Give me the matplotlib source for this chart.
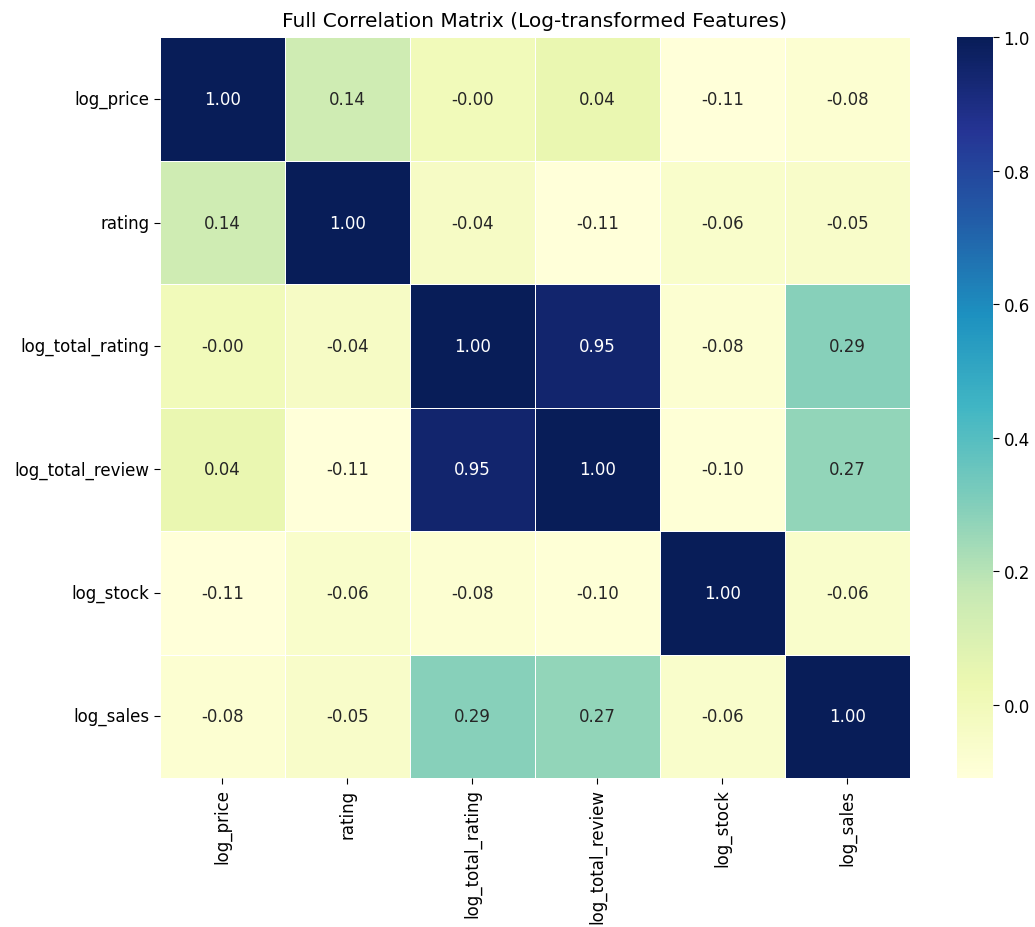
import matplotlib
matplotlib.use("Agg")
import matplotlib.pyplot as plt
import seaborn as sns
import pandas as pd

# features and their pairwise correlations
features = ["log_price", "rating", "log_total_rating", "log_total_review", "log_stock", "log_sales"]
row_log_price = [1.00, 0.14, -0.00, 0.04, -0.11, -0.08]
row_rating = [0.14, 1.00, -0.04, -0.11, -0.06, -0.05]
row_log_total_rating = [-0.00, -0.04, 1.00, 0.95, -0.08, 0.29]
row_log_total_review = [0.04, -0.11, 0.95, 1.00, -0.10, 0.27]
row_log_stock = [-0.11, -0.06, -0.08, -0.10, 1.00, -0.06]
row_log_sales = [-0.08, -0.05, 0.29, 0.27, -0.06, 1.00]

corr = pd.DataFrame(
    [row_log_price, row_rating, row_log_total_rating,
     row_log_total_review, row_log_stock, row_log_sales],
    index=features, columns=features,
)

fig = plt.figure(figsize=(10.35, 9.28), dpi=100)
ax = fig.add_axes([0.1546, 0.1606, 0.7243, 0.798])
cax = fig.add_axes([0.9246, 0.1606, 0.0348, 0.798])

sns.heatmap(corr, annot=True, fmt=".2f", cmap="YlGnBu", linewidths=0.5,
            ax=ax, cbar_ax=cax, annot_kws={"fontsize": 12})
ax.set_title("Full Correlation Matrix (Log-transformed Features)", fontsize=14.5, pad=8)
ax.tick_params(labelsize=12, length=4)
ax.set_yticklabels(ax.get_yticklabels(), rotation=0)
ax.set_xticklabels(ax.get_xticklabels(), rotation=90)
cax.tick_params(labelsize=12, length=4)

fig.savefig("out.png", dpi=100)
